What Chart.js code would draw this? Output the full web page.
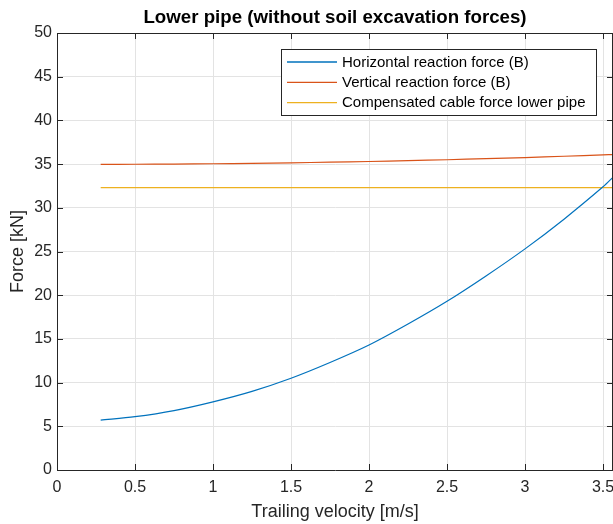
<!DOCTYPE html>
<html>
<head>
<meta charset="utf-8">
<script src="https://cdn.jsdelivr.net/npm/chart.js@4/dist/chart.umd.min.js"></script>
<style>
  html, body { margin: 0; padding: 0; background: #fff; overflow: hidden; }
  #wrap { width: 613px; height: 524px; position: relative; }
</style>
</head>
<body>
<div id="wrap"><canvas id="c" width="613" height="524"></canvas></div>
<script>
// ---- data ----
const chartTitle = 'Lower pipe (without soil excavation forces)';
const xTitle = 'Trailing velocity [m/s]';
const yTitle = 'Force [kN]';
const seriesNames = ['Horizontal reaction force (B)', 'Vertical reaction force (B)', 'Compensated cable force lower pipe'];
const seriesColors = ['#0072BD', '#D95319', '#EDB120'];

const velocity = [0.28, 0.5, 0.75, 1.0, 1.25, 1.5, 1.75, 2.0, 2.25, 2.5, 2.75, 3.0, 3.25, 3.5, 3.57];
const horizontalForce = [5.7, 6.1, 6.8, 7.8, 9.0, 10.5, 12.3, 14.3, 16.7, 19.3, 22.2, 25.3, 28.7, 32.4, 33.6];
const verticalForce = [34.97, 34.98, 35.0, 35.04, 35.09, 35.15, 35.22, 35.3, 35.4, 35.5, 35.62, 35.75, 35.9, 36.05, 36.1];
const cableForce = [32.3, 32.3, 32.3, 32.3, 32.3, 32.3, 32.3, 32.3, 32.3, 32.3, 32.3, 32.3, 32.3, 32.3, 32.3];

const xMin = 0, xMax = 3.564, xStep = 0.5;
const yMin = 0, yMax = 50, yStep = 5;

const AX = '#262626';
const FONT = "'Liberation Sans', Arial, Helvetica, sans-serif";

function pts(xs, ys) { return xs.map((x, i) => ({ x: x, y: ys[i] })); }

const allSeries = [horizontalForce, verticalForce, cableForce];
const datasets = allSeries.map((s, i) => ({
  label: seriesNames[i],
  data: pts(velocity, s),
  borderColor: seriesColors[i],
  backgroundColor: seriesColors[i],
  borderWidth: 1.2,
  pointRadius: 0,
  tension: 0.3,
  fill: false
}));

// title above the axes, axes frame, inward ticks, legend box
const framePlugin = {
  id: 'frame',
  afterDraw(chart) {
    const ctx = chart.ctx;
    const a = chart.chartArea;
    const xs = chart.scales.x, ys = chart.scales.y;
    ctx.save();
    // title centred over the axes
    ctx.fillStyle = '#000';
    ctx.font = 'bold 18.7px ' + FONT;
    ctx.textAlign = 'center';
    ctx.textBaseline = 'middle';
    ctx.fillText(chart.options.plugins.frame.title, (a.left + a.right) / 2, 18);

    ctx.strokeStyle = AX;
    ctx.lineWidth = 1;
    ctx.beginPath();
    ctx.moveTo(a.left, Math.round(a.top) + 0.5);
    ctx.lineTo(a.right, Math.round(a.top) + 0.5);
    ctx.moveTo(Math.round(a.right) - 0.5, a.top);
    ctx.lineTo(Math.round(a.right) - 0.5, a.bottom);
    ctx.stroke();
    const L = 6;
    ctx.beginPath();
    xs.ticks.forEach(t => {
      const px = Math.round(xs.getPixelForValue(t.value)) + 0.5;
      ctx.moveTo(px, a.bottom); ctx.lineTo(px, a.bottom - L);
      ctx.moveTo(px, a.top); ctx.lineTo(px, a.top + L);
    });
    ys.ticks.forEach(t => {
      const py = Math.round(ys.getPixelForValue(t.value)) + 0.5;
      ctx.moveTo(a.left, py); ctx.lineTo(a.left + L, py);
      ctx.moveTo(a.right, py); ctx.lineTo(a.right - L, py);
    });
    ctx.stroke();

    // legend
    const bx = 281.5, by = 49.5, bw = 315, bh = 66;
    ctx.fillStyle = '#fff';
    ctx.fillRect(bx, by, bw, bh);
    ctx.strokeStyle = AX;
    ctx.strokeRect(bx, by, bw, bh);
    const rows = [62, 82.3, 102.7];
    ctx.font = '15px ' + FONT;
    ctx.textBaseline = 'middle';
    ctx.textAlign = 'left';
    chart.data.datasets.forEach((d, i) => {
      ctx.strokeStyle = d.borderColor;
      ctx.lineWidth = 1.3;
      ctx.beginPath();
      ctx.moveTo(287, rows[i]); ctx.lineTo(337, rows[i]);
      ctx.stroke();
      ctx.fillStyle = '#000';
      ctx.fillText(d.label, 342, rows[i] + 0.5);
    });
    ctx.restore();
  }
};

new Chart(document.getElementById('c'), {
  type: 'line',
  data: { datasets: datasets },
  options: {
    responsive: false,
    animation: false,
    devicePixelRatio: 1,
    layout: { padding: { left: 0, right: 0, top: 33, bottom: 0 } },
    plugins: {
      legend: { display: false },
      tooltip: { enabled: false },
      title: { display: false },
      frame: { title: chartTitle }
    },
    scales: {
      x: {
        type: 'linear',
        min: xMin, max: xMax,
        ticks: {
          stepSize: xStep,
          includeBounds: false,
          color: AX,
          font: { family: FONT, size: 16 },
          padding: 8,
          maxRotation: 0,
          autoSkip: false,
          callback: v => String(v)
        },
        grid: { color: '#e3e3e3', lineWidth: 1, drawTicks: false },
        border: { display: true, color: AX, width: 1 },
        title: {
          display: true, text: xTitle, color: AX,
          font: { family: FONT, size: 18 },
          padding: { top: 1, bottom: 1 }
        },
        afterFit(s) { s.height = 54; s.paddingLeft = 0; s.paddingRight = 0; }
      },
      y: {
        type: 'linear',
        min: yMin, max: yMax,
        ticks: {
          stepSize: yStep,
          color: AX,
          font: { family: FONT, size: 16 },
          padding: 5,
          autoSkip: false
        },
        grid: { color: '#e3e3e3', lineWidth: 1, drawTicks: false },
        border: { display: true, color: AX, width: 1 },
        title: {
          display: true, text: yTitle, color: AX,
          font: { family: FONT, size: 18 },
          padding: { top: 7, bottom: 7 }
        },
        afterFit(s) { s.width = 57; s.paddingTop = 0; s.paddingBottom = 0; }
      }
    }
  },
  plugins: [framePlugin]
});
</script>
</body>
</html>
